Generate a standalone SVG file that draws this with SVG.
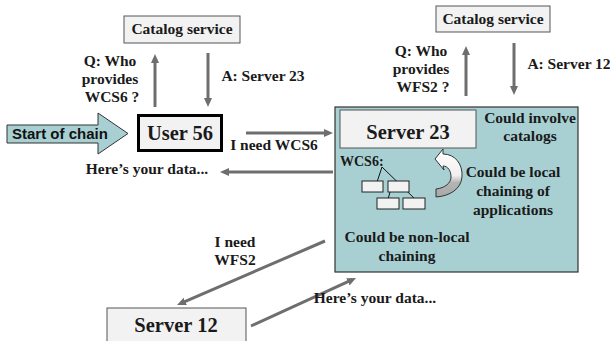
<svg xmlns="http://www.w3.org/2000/svg" width="610" height="341" viewBox="0 0 610 341">
<defs>
<marker id="ah" markerUnits="userSpaceOnUse" markerWidth="10" markerHeight="9" refX="5" refY="4" orient="auto">
<path d="M0,0 L9,4 L0,8 z" fill="#6e6e6e"/>
</marker>
<linearGradient id="cg" x1="0" y1="0" x2="0" y2="1">
<stop offset="0" stop-color="#ffffff"/>
<stop offset="0.55" stop-color="#f0f0f0"/>
<stop offset="0.7" stop-color="#b4b4b4"/>
<stop offset="1" stop-color="#a8a8a8"/>
</linearGradient>
<style>
.t{font-family:"Liberation Serif","Times New Roman",serif;font-weight:bold;font-size:15.5px;fill:#1a1a1a;text-anchor:middle}
.big{font-size:20.5px}
.box{fill:#f2f2f2;stroke:#555;stroke-width:1}
.c{stroke:#6e6e6e;stroke-width:3;fill:none;marker-end:url(#ah)}
.sm{fill:#f2f2f2;stroke:#222;stroke-width:1}
.ln{stroke:#111;stroke-width:1}
</style>
</defs>
<rect width="610" height="341" fill="#fff"/>

<g id="server23-area">
<rect x="335" y="107" width="243" height="165" fill="#a8d0d3" stroke="#333" stroke-width="1.2"/>
<text class="t" x="530" y="123">Could involve</text>
<text class="t" x="530" y="141">catalogs</text>
<text class="t" x="513" y="177">Could be local</text>
<text class="t" x="513" y="196">chaining of</text>
<text class="t" x="513" y="215">applications</text>
<text class="t" x="407" y="242">Could be non-local</text>
<text class="t" x="407" y="261">chaining</text>
</g>

<g id="server23">
<rect class="box" x="340" y="110" width="136" height="38"/>
<text class="t big" x="408" y="139">Server 23</text>
</g>

<g id="wcs6">
<text class="t" x="340" y="166" style="text-anchor:start;font-size:14px">WCS6:</text>
<line class="ln" x1="382" y1="167" x2="377" y2="182"/>
<line class="ln" x1="382" y1="167" x2="415" y2="199"/>
<line class="ln" x1="393" y1="182" x2="388" y2="199"/>
<rect class="sm" x="362" y="181" width="21" height="11"/>
<rect class="sm" x="388" y="181" width="21" height="11"/>
<rect class="sm" x="377" y="198" width="22" height="11"/>
<rect class="sm" x="403" y="198" width="22" height="11"/>
</g>

<g id="local-loop">
<path d="M435,159 L443,149 L443,154 C455,154 463,164 462,177 C461,189 450,196 436,197 L436,189 C445,188 451,183 451,177 C451,171 448,166 443,166 L444,170 Z" fill="url(#cg)" stroke="#333" stroke-width="1"/>
</g>

<g id="catalog1">
<rect class="box" x="124" y="16" width="116" height="27"/>
<text class="t" x="182" y="34" style="font-size:15.5px">Catalog service</text>
</g>

<g id="catalog2">
<rect class="box" x="436" y="6" width="114" height="26"/>
<text class="t" x="493" y="24" style="font-size:15.5px">Catalog service</text>
</g>

<g id="start">
<path d="M7,125 L98,125 L98,113 L128,133.5 L98,154 L98,143 L7,143 Z" fill="#a8d0d3" stroke="#333" stroke-width="1"/>
<text x="12" y="139" style="font-family:'Liberation Sans',Arial,sans-serif;font-weight:bold;font-size:15px;fill:#111">Start of chain</text>
</g>

<g id="user56">
<rect x="138.5" y="115.5" width="83" height="35" fill="#f2f2f2" stroke="#000" stroke-width="3"/>
<text class="t big" x="180" y="140">User 56</text>
</g>

<g id="server12">
<rect class="box" x="107" y="308" width="139" height="40"/>
<text class="t big" x="176" y="332">Server 12</text>
</g>

<g id="connectors">
<line class="c" x1="155" y1="107" x2="155" y2="58"/>
<line class="c" x1="208" y1="53" x2="208" y2="103"/>
<line class="c" x1="466" y1="96" x2="466" y2="50"/>
<line class="c" x1="514" y1="43" x2="514" y2="91"/>
<line class="c" x1="246" y1="133" x2="329" y2="133"/>
<line class="c" x1="333" y1="172" x2="224" y2="172"/>
<line class="c" x1="325" y1="241" x2="180.7" y2="303.4"/>
<line class="c" x1="251" y1="326" x2="352.4" y2="279.7"/>
</g>

<g id="labels">
<text class="t" x="110" y="66">Q: Who</text>
<text class="t" x="110" y="84">provides</text>
<text class="t" x="112" y="102">WCS6 ?</text>
<text class="t" x="263" y="81">A: Server 23</text>
<text class="t" x="421" y="56">Q: Who</text>
<text class="t" x="421" y="74">provides</text>
<text class="t" x="423" y="92">WFS2 ?</text>
<text class="t" x="569" y="69">A: Server 12</text>
<text class="t" x="274" y="150">I need WCS6</text>
<text class="t" x="147" y="174">Here’s your data...</text>
<text class="t" x="235" y="247">I need</text>
<text class="t" x="235" y="265">WFS2</text>
<text class="t" x="375" y="303">Here’s your data...</text>
</g>
</svg>
